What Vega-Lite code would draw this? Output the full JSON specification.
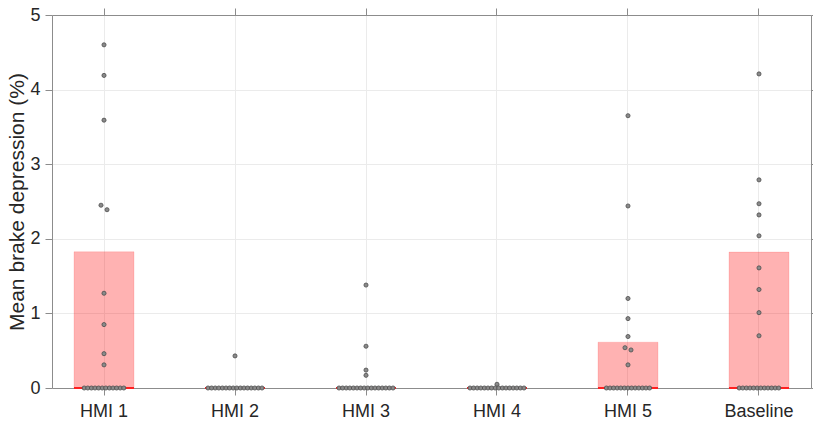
{
  "$schema": "https://vega.github.io/schema/vega-lite/v6.json",
  "width": 759,
  "height": 373,
  "autosize": {"type": "none"},
  "padding": {"left": 52, "top": 15, "right": 2, "bottom": 34},
  "background": "white",
  "config": {
    "view": {"stroke": null},
    "font": "Liberation Sans",
    "axis": {
      "labelFont": "Liberation Sans",
      "titleFont": "Liberation Sans",
      "labelColor": "#262626",
      "titleColor": "#262626",
      "domainColor": "#8c8c8c",
      "tickColor": "#8c8c8c",
      "gridColor": "#ebebeb",
      "tickSize": 7,
      "labelFontSize": 18,
      "titleFontWeight": "normal"
    }
  },
  "datasets": {
    "bars": [
      {"group": "HMI 1", "mean": 1.826, "median": 0},
      {"group": "HMI 2", "mean": 0, "median": 0},
      {"group": "HMI 3", "mean": 0, "median": 0},
      {"group": "HMI 4", "mean": 0, "median": 0},
      {"group": "HMI 5", "mean": 0.614, "median": 0},
      {"group": "Baseline", "mean": 1.822, "median": 0}
    ],
    "points": [
      {"group": "HMI 1", "value": 4.60},
      {"group": "HMI 1", "value": 4.19},
      {"group": "HMI 1", "value": 3.59},
      {"group": "HMI 1", "value": 2.45},
      {"group": "HMI 1", "value": 2.39},
      {"group": "HMI 1", "value": 1.27},
      {"group": "HMI 1", "value": 0.85},
      {"group": "HMI 1", "value": 0.46},
      {"group": "HMI 1", "value": 0.31},
      {"group": "HMI 1", "value": 0},
      {"group": "HMI 1", "value": 0},
      {"group": "HMI 1", "value": 0},
      {"group": "HMI 1", "value": 0},
      {"group": "HMI 1", "value": 0},
      {"group": "HMI 1", "value": 0},
      {"group": "HMI 1", "value": 0},
      {"group": "HMI 1", "value": 0},
      {"group": "HMI 1", "value": 0},
      {"group": "HMI 1", "value": 0},
      {"group": "HMI 1", "value": 0},
      {"group": "HMI 1", "value": 0},
      {"group": "HMI 2", "value": 0.43},
      {"group": "HMI 2", "value": 0},
      {"group": "HMI 2", "value": 0},
      {"group": "HMI 2", "value": 0},
      {"group": "HMI 2", "value": 0},
      {"group": "HMI 2", "value": 0},
      {"group": "HMI 2", "value": 0},
      {"group": "HMI 2", "value": 0},
      {"group": "HMI 2", "value": 0},
      {"group": "HMI 2", "value": 0},
      {"group": "HMI 2", "value": 0},
      {"group": "HMI 2", "value": 0},
      {"group": "HMI 2", "value": 0},
      {"group": "HMI 2", "value": 0},
      {"group": "HMI 2", "value": 0},
      {"group": "HMI 2", "value": 0},
      {"group": "HMI 2", "value": 0},
      {"group": "HMI 3", "value": 1.38},
      {"group": "HMI 3", "value": 0.56},
      {"group": "HMI 3", "value": 0.24},
      {"group": "HMI 3", "value": 0.17},
      {"group": "HMI 3", "value": 0},
      {"group": "HMI 3", "value": 0},
      {"group": "HMI 3", "value": 0},
      {"group": "HMI 3", "value": 0},
      {"group": "HMI 3", "value": 0},
      {"group": "HMI 3", "value": 0},
      {"group": "HMI 3", "value": 0},
      {"group": "HMI 3", "value": 0},
      {"group": "HMI 3", "value": 0},
      {"group": "HMI 3", "value": 0},
      {"group": "HMI 3", "value": 0},
      {"group": "HMI 3", "value": 0},
      {"group": "HMI 3", "value": 0},
      {"group": "HMI 3", "value": 0},
      {"group": "HMI 3", "value": 0},
      {"group": "HMI 3", "value": 0},
      {"group": "HMI 4", "value": 0.05},
      {"group": "HMI 4", "value": 0},
      {"group": "HMI 4", "value": 0},
      {"group": "HMI 4", "value": 0},
      {"group": "HMI 4", "value": 0},
      {"group": "HMI 4", "value": 0},
      {"group": "HMI 4", "value": 0},
      {"group": "HMI 4", "value": 0},
      {"group": "HMI 4", "value": 0},
      {"group": "HMI 4", "value": 0},
      {"group": "HMI 4", "value": 0},
      {"group": "HMI 4", "value": 0},
      {"group": "HMI 4", "value": 0},
      {"group": "HMI 4", "value": 0},
      {"group": "HMI 4", "value": 0},
      {"group": "HMI 4", "value": 0},
      {"group": "HMI 4", "value": 0},
      {"group": "HMI 5", "value": 3.65},
      {"group": "HMI 5", "value": 2.44},
      {"group": "HMI 5", "value": 1.20},
      {"group": "HMI 5", "value": 0.93},
      {"group": "HMI 5", "value": 0.69},
      {"group": "HMI 5", "value": 0.54},
      {"group": "HMI 5", "value": 0.51},
      {"group": "HMI 5", "value": 0.31},
      {"group": "HMI 5", "value": 0},
      {"group": "HMI 5", "value": 0},
      {"group": "HMI 5", "value": 0},
      {"group": "HMI 5", "value": 0},
      {"group": "HMI 5", "value": 0},
      {"group": "HMI 5", "value": 0},
      {"group": "HMI 5", "value": 0},
      {"group": "HMI 5", "value": 0},
      {"group": "HMI 5", "value": 0},
      {"group": "HMI 5", "value": 0},
      {"group": "HMI 5", "value": 0},
      {"group": "HMI 5", "value": 0},
      {"group": "HMI 5", "value": 0},
      {"group": "Baseline", "value": 4.21},
      {"group": "Baseline", "value": 2.79},
      {"group": "Baseline", "value": 2.47},
      {"group": "Baseline", "value": 2.32},
      {"group": "Baseline", "value": 2.04},
      {"group": "Baseline", "value": 1.61},
      {"group": "Baseline", "value": 1.32},
      {"group": "Baseline", "value": 1.01},
      {"group": "Baseline", "value": 0.70},
      {"group": "Baseline", "value": 0},
      {"group": "Baseline", "value": 0},
      {"group": "Baseline", "value": 0},
      {"group": "Baseline", "value": 0},
      {"group": "Baseline", "value": 0},
      {"group": "Baseline", "value": 0},
      {"group": "Baseline", "value": 0},
      {"group": "Baseline", "value": 0},
      {"group": "Baseline", "value": 0},
      {"group": "Baseline", "value": 0},
      {"group": "Baseline", "value": 0},
      {"group": "Baseline", "value": 0}
    ]
  },
  "layer": [
    {
      "data": {"name": "bars"},
      "mark": {"type": "bar", "fill": "#ff0000", "fillOpacity": 0.3, "stroke": "#ff0000", "strokeOpacity": 0.12, "strokeWidth": 1},
      "encoding": {
        "x": {
          "field": "group", "type": "nominal",
          "scale": {"type": "band", "domain": ["HMI 1", "HMI 2", "HMI 3", "HMI 4", "HMI 5", "Baseline"], "paddingInner": 0.542, "paddingOuter": 0.168},
          "axis": {"title": null, "labelAngle": 0, "grid": true, "bandPosition": 0.5, "labelPadding": 7, "orient": "bottom"}
        },
        "y": {
          "field": "mean", "type": "quantitative",
          "scale": {"domain": [0, 5], "nice": false},
          "axis": {"title": "Mean brake depression (%)", "titleFontSize": 21, "values": [0, 1, 2, 3, 4, 5], "grid": true, "labelPadding": 5, "titlePadding": 2, "orient": "left"}
        }
      }
    },
    {
      "data": {"name": "bars"},
      "mark": {"type": "bar", "stroke": "#ff2020", "strokeWidth": 2, "fillOpacity": 0},
      "encoding": {
        "x": {
          "field": "group", "type": "nominal",
          "scale": {"type": "band", "domain": ["HMI 1", "HMI 2", "HMI 3", "HMI 4", "HMI 5", "Baseline"], "paddingInner": 0.542, "paddingOuter": 0.168},
          "axis": {"orient": "top", "labels": false, "grid": false, "title": null, "bandPosition": 0.5}
        },
        "y": {"field": "median", "type": "quantitative", "scale": {"domain": [0, 5], "nice": false}, "axis": {"orient": "right", "labels": false, "grid": false, "title": null, "values": [0, 1, 2, 3, 4, 5]}},
        "y2": {"field": "median"}
      }
    },
    {
      "data": {"name": "points"},
      "transform": [
        {"window": [{"op": "row_number", "as": "r"}, {"op": "count", "as": "n"}], "groupby": ["group", "value"], "frame": [null, null]},
        {"window": [{"op": "lag", "field": "value", "as": "prev"}, {"op": "lead", "field": "value", "as": "next"}], "groupby": ["group"], "sort": [{"field": "value", "order": "ascending"}]},
        {"calculate": "datum.value == 0 ? (datum.r - (datum.n + 1) / 2) * 3.6 : ((isValid(datum.prev) && datum.prev > 0 && datum.value - datum.prev < 0.065) ? -3 : 0) + ((isValid(datum.next) && datum.next - datum.value < 0.065) ? 3 : 0)", "as": "off"}
      ],
      "mark": {"type": "circle", "size": 17, "fill": "#8a8a8a", "fillOpacity": 1, "stroke": "#4d4d4d", "strokeWidth": 0.8},
      "encoding": {
        "x": {
          "field": "group", "type": "nominal", "axis": null,
          "scale": {"type": "band", "domain": ["HMI 1", "HMI 2", "HMI 3", "HMI 4", "HMI 5", "Baseline"], "paddingInner": 0.542, "paddingOuter": 0.168}
        },
        "xOffset": {"field": "off", "type": "quantitative", "scale": {"domain": [-40, 40], "range": [-10, 70]}},
        "y": {"field": "value", "type": "quantitative", "axis": null, "scale": {"domain": [0, 5], "nice": false}}
      }
    }
  ],
  "resolve": {"scale": {"x": "independent", "xOffset": "independent"}, "axis": {"x": "independent", "y": "independent"}}
}
